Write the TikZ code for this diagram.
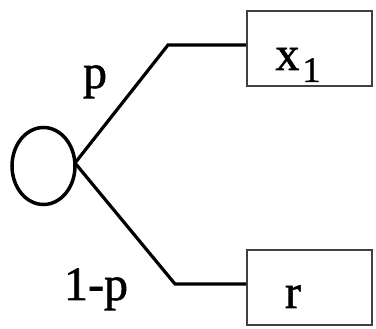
\documentclass[tikz,border=0pt]{standalone}
\usepackage{fontspec}
\setmainfont{Liberation Serif}[FakeBold=1.2]
\usetikzlibrary{shapes.geometric}
\begin{document}
\begin{tikzpicture}[x=1pt,y=-1pt,
  lbl/.style={inner sep=0pt,anchor=base,font=\fontsize{48}{52}\selectfont},
  outbox/.style={draw=black!75,line width=2pt,minimum width=125pt,minimum height=75pt,inner sep=0pt},
  branch/.style={line width=3.2pt}]
\useasboundingbox (0,0) rectangle (376,329);
\node[draw,ellipse,line width=3.5pt,minimum width=63pt,minimum height=77pt,inner sep=0pt] (c) at (43.5,166) {};
\coordinate (j) at (75,163);
\node[outbox] (x1) at (309.5,49) {};
\node[outbox] (r) at (309.5,287.5) {};
\node[lbl] at (298,70) {x\hspace{3pt}\raisebox{-12pt}{\fontsize{36}{40}\selectfont 1}};
\node[lbl] at (293,308) {r};
\coordinate (u) at (168,45);
\coordinate (d) at (175,284);
\draw[branch] (j) -- (u) -- (x1.west |- u);
\draw[branch] (j) -- (d) -- (r.west |- d);
\node[lbl] (p) at (95,88) {p};
\node[lbl] (q) at (96,300) {1-p};
\end{tikzpicture}
\end{document}
